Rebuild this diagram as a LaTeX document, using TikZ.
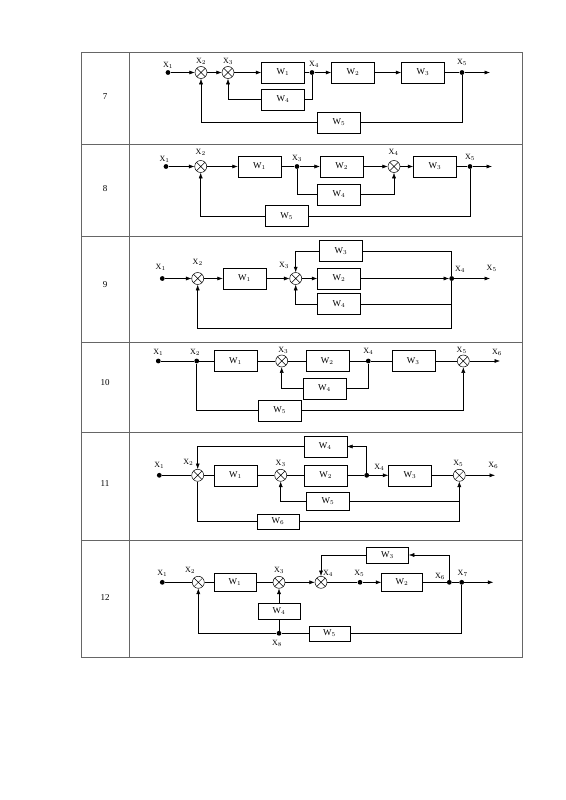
\documentclass[tikz,border=0pt]{standalone}
\usepackage{fontspec}
\setmainfont{Liberation Serif}
\usetikzlibrary{positioning, arrows.meta}

\begin{document}
\begin{tikzpicture}[x=1pt, y=-1pt,
        line width=0.5pt,
        >={Latex[length=5.5pt,width=4pt]},
        block/.style={draw, rectangle, minimum width=43pt, minimum height=21pt, inner sep=0pt, font=\small},
        sumj/.style={draw, circle, minimum size=12pt, inner sep=0pt,
            path picture={\draw (path picture bounding box.north west) -- (path picture bounding box.south east)
                (path picture bounding box.north east) -- (path picture bounding box.south west);}},
        dot/.style={circle, fill, inner sep=0pt, minimum size=4.8pt},
        lbl/.style={font=\footnotesize, inner sep=0pt},
        rownum/.style={font=\small}]
        \useasboundingbox (0,0) rectangle (565,800);

        % Define the table
        \draw[black!60, line width=0.8pt] (81,52.5) rectangle (522.5,657);
        \draw[black!60, line width=0.8pt] (129,52.5) -- (129,657);
        \draw[black!60, line width=0.8pt] (81,144.5) -- (522.5,144.5);
        \draw[black!60, line width=0.8pt] (81,236.5) -- (522.5,236.5);
        \draw[black!60, line width=0.8pt] (81,342) -- (522.5,342);
        \draw[black!60, line width=0.8pt] (81,432.5) -- (522.5,432.5);
        \draw[black!60, line width=0.8pt] (81,540.5) -- (522.5,540.5);

        \node[rownum] (n7) at (105,97) {7};
        \node[rownum] (n8) at (105,189) {8};
        \node[rownum] (n9) at (105,285) {9};
        \node[rownum] (n10) at (105,383) {10};
        \node[rownum] (n11) at (105,484) {11};
        \node[rownum] (n12) at (105,598) {12};

        % Row 7
        \node[dot] (a1) at (168,72.5) {};
        \node[sumj] (as2) at (201,72.5) {};
        \node[sumj] (as3) at (228,72.5) {};
        \node[block] (aW1) at (283,72.5) {W$_1$};
        \node[dot] (a4) at (312,72.5) {};
        \node[block] (aW2) at (353,72.5) {W$_2$};
        \node[block] (aW3) at (423,72.5) {W$_3$};
        \node[dot] (a5) at (462,72.5) {};
        \coordinate (aout) at (490,72.5);
        \node[block] (aW4) at (283,99.5) {W$_4$};
        \node[block] (aW5) at (339,122.5) {W$_5$};

        \node[lbl] (a1l) at (168,65) {X$_1$};
        \node[lbl] (a2l) at (201,61) {X$_2$};
        \node[lbl] (a3l) at (228,61) {X$_3$};
        \node[lbl] (a4l) at (314,64) {X$_4$};
        \node[lbl] (a5l) at (462,62) {X$_5$};

        \draw[->] (a1) -- (as2);
        \draw[->] (as2) -- (as3);
        \draw[->] (as3) -- (aW1);
        \draw (aW1) -- (a4);
        \draw[->] (a4) -- (aW2);
        \draw[->] (aW2) -- (aW3);
        \draw (aW3) -- (a5);
        \draw[->] (a5) -- (aout);
        \draw (a4) |- (aW4);
        \draw[->] (aW4) -| (as3);
        \draw (a5) |- (aW5);
        \draw[->] (aW5) -| (as2);

        % Row 8
        \node[dot] (b1) at (166,166.5) {};
        \node[sumj] (bs2) at (200.7,166.5) {};
        \node[block] (bW1) at (259.5,166.5) {W$_1$};
        \node[dot] (b3) at (297,166.5) {};
        \node[block] (bW2) at (341.7,166.5) {W$_2$};
        \node[sumj] (bs4) at (394,166.5) {};
        \node[block] (bW3) at (435,166.5) {W$_3$};
        \node[dot] (b5) at (470,166.5) {};
        \coordinate (bout) at (492,166.5);
        \node[block] (bW4) at (339,194.5) {W$_4$};
        \node[block] (bW5) at (286.7,216) {W$_5$};

        \node[lbl] (b1l) at (164.5,159) {X$_1$};
        \node[lbl] (b2l) at (200.7,152) {X$_2$};
        \node[lbl] (b3l) at (297,158) {X$_3$};
        \node[lbl] (b4l) at (393.5,152) {X$_4$};
        \node[lbl] (b5l) at (470,157.5) {X$_5$};

        \draw[->] (b1) -- (bs2);
        \draw[->] (bs2) -- (bW1);
        \draw (bW1) -- (b3);
        \draw[->] (b3) -- (bW2);
        \draw[->] (bW2) -- (bs4);
        \draw[->] (bs4) -- (bW3);
        \draw (bW3) -- (b5);
        \draw[->] (b5) -- (bout);
        \draw (b3) |- (bW4);
        \draw[->] (bW4) -| (bs4);
        \draw (b5) |- (bW5);
        \draw[->] (bW5) -| (bs2);

        % Row 9
        \node[dot] (c1) at (162.3,278.5) {};
        \node[sumj] (cs2) at (197.7,278.5) {};
        \node[block] (cW1) at (244.5,278.5) {W$_1$};
        \node[sumj] (cs3) at (295.7,278.5) {};
        \node[block] (cW2) at (339,278.5) {W$_2$};
        \node[block] (cW3) at (341,251) {W$_3$};
        \node[block] (cW4) at (339,304) {W$_4$};
        \node[dot] (c4) at (451.7,278.5) {};
        \coordinate (cout) at (490,278.5);
        \coordinate (cbl) at (197.7,328.7);

        \node[lbl] (c1l) at (160.7,267) {X$_1$};
        \node[lbl] (c2l) at (197.7,262) {X$_2$};
        \node[lbl] (c3l) at (284,265) {X$_3$};
        \node[lbl] (c4l) at (460,269.5) {X$_4$};
        \node[lbl] (c5l) at (491.7,268) {X$_5$};

        \draw[->] (c1) -- (cs2);
        \draw[->] (cs2) -- (cW1);
        \draw[->] (cW1) -- (cs3);
        \draw[->] (cs3) -- (cW2);
        \draw[->] (cW2) -- (c4);
        \draw[->] (c4) -- (cout);
        \draw (c4) |- (cW3);
        \draw[->] (cW3) -| (cs3);
        \draw (c4) |- (cW4);
        \draw[->] (cW4) -| (cs3);
        \draw[->] (c4) |- (cbl) -- (cs2);

        % Row 10
        \node[dot] (d1) at (158.3,361) {};
        \node[dot] (d2) at (196.7,361) {};
        \node[block] (dW1) at (235.5,361) {W$_1$};
        \node[sumj] (ds3) at (281.7,361) {};
        \node[block] (dW2) at (327.3,361) {W$_2$};
        \node[dot] (d4) at (368.3,361) {};
        \node[block] (dW3) at (413.3,361) {W$_3$};
        \node[sumj] (ds5) at (463.3,361) {};
        \coordinate (dout) at (500,361);
        \node[block] (dW4) at (324.5,388.5) {W$_4$};
        \node[block] (dW5) at (279.7,410.5) {W$_5$};

        \node[lbl] (d1l) at (158.3,352) {X$_1$};
        \node[lbl] (d2l) at (195,352) {X$_2$};
        \node[lbl] (d3l) at (283.3,350.5) {X$_3$};
        \node[lbl] (d4l) at (368.3,351.5) {X$_4$};
        \node[lbl] (d5l) at (461.7,350.5) {X$_5$};
        \node[lbl] (d6l) at (497,352.5) {X$_6$};

        \draw (d1) -- (d2);
        \draw (d2) -- (dW1);
        \draw (dW1) -- (ds3);
        \draw (ds3) -- (dW2);
        \draw (dW2) -- (d4);
        \draw (d4) -- (dW3);
        \draw (dW3) -- (ds5);
        \draw[->] (ds5) -- (dout);
        \draw (d4) |- (dW4);
        \draw[->] (dW4) -| (ds3);
        \draw (d2) |- (dW5);
        \draw[->] (dW5) -| (ds5);

        % Row 11
        \node[dot] (e1) at (159.3,475.3) {};
        \node[sumj] (es2) at (197.7,475.3) {};
        \node[block] (eW1) at (235.5,475.3) {W$_1$};
        \node[sumj] (es3) at (280.7,475.3) {};
        \node[block] (eW2) at (325.7,475.3) {W$_2$};
        \node[dot] (e4) at (366.7,475.3) {};
        \node[block] (eW3) at (410,475.3) {W$_3$};
        \node[sumj] (es5) at (459.3,475.3) {};
        \coordinate (eout) at (495,475.3);
        \node[block] (eW4) at (325.3,446.5) {W$_4$};
        \node[block, minimum height=18pt] (eW5) at (328,501.5) {W$_5$};
        \node[block, minimum width=42pt, minimum height=15.5pt] (eW6) at (278,521.5) {W$_6$};
        \coordinate (e5j) at (es5 |- eW5);

        \node[lbl] (e1l) at (159.3,465.5) {X$_1$};
        \node[lbl] (e2l) at (188.3,462.5) {X$_2$};
        \node[lbl] (e3l) at (280.7,463) {X$_3$};
        \node[lbl] (e4l) at (379.3,467) {X$_4$};
        \node[lbl] (e5l) at (458.3,463) {X$_5$};
        \node[lbl] (e6l) at (493.3,465.5) {X$_6$};

        \draw (e1) -- (es2);
        \draw (es2) -- (eW1);
        \draw (eW1) -- (es3);
        \draw (es3) -- (eW2);
        \draw (eW2) -- (e4);
        \draw[->] (e4) -- (eW3);
        \draw (eW3) -- (es5);
        \draw[->] (es5) -- (eout);
        \draw[->] (e4) |- (eW4);
        \draw[->] (eW4) -| (es2);
        \draw (es2) |- (eW6);
        \draw[->] (eW6) -| (es5);
        \draw (e5j) -- (eW5);
        \draw[->] (eW5) -| (es3);

        % Row 12
        \node[dot] (f1) at (162.3,582.3) {};
        \node[sumj] (fs2) at (198.3,582.3) {};
        \node[block, minimum width=42pt, minimum height=18pt] (fW1) at (235,582.3) {W$_1$};
        \node[sumj] (fs3) at (279,582.3) {};
        \node[sumj] (fs4) at (321,582.3) {};
        \node[dot] (f5) at (360,582.3) {};
        \node[block, minimum width=41pt, minimum height=18pt] (fW2) at (402,582.3) {W$_2$};
        \node[dot] (f6) at (449.3,582.3) {};
        \node[dot] (f7) at (461.7,582.3) {};
        \coordinate (fout) at (493.3,582.3);
        \node[block, minimum width=42pt, minimum height=15.5pt] (fW3) at (387.5,555) {W$_3$};
        \node[block, minimum width=42pt, minimum height=16pt] (fW4) at (279,611) {W$_4$};
        \node[dot] (f8) at (279,633.3) {};
        \node[block, minimum width=41pt, minimum height=15pt] (fW5) at (329.5,633.3) {W$_5$};

        \node[lbl] (f1l) at (162.3,573) {X$_1$};
        \node[lbl] (f2l) at (190,570.5) {X$_2$};
        \node[lbl] (f3l) at (279,570.5) {X$_3$};
        \node[lbl] (f4l) at (328,573.5) {X$_4$};
        \node[lbl] (f5l) at (359.3,573.5) {X$_5$};
        \node[lbl] (f6l) at (440,576.5) {X$_6$};
        \node[lbl] (f7l) at (462.7,573.5) {X$_7$};
        \node[lbl] (f8l) at (277,643.5) {X$_8$};

        \draw (f1) -- (fs2);
        \draw (fs2) -- (fW1);
        \draw (fW1) -- (fs3);
        \draw[->] (fs3) -- (fs4);
        \draw (fs4) -- (f5);
        \draw[->] (f5) -- (fW2);
        \draw (fW2) -- (f6);
        \draw (f6) -- (f7);
        \draw[->] (f7) -- (fout);
        \draw[->] (f6) |- (fW3);
        \draw[->] (fW3) -| (fs4);
        \draw[->] (fW4) -- (fs3);
        \draw (f8) -- (fW4);
        \draw (f7) |- (fW5);
        \draw (fW5) -- (f8);
        \draw[->] (f8) -| (fs2);
    \end{tikzpicture}
\end{document}
